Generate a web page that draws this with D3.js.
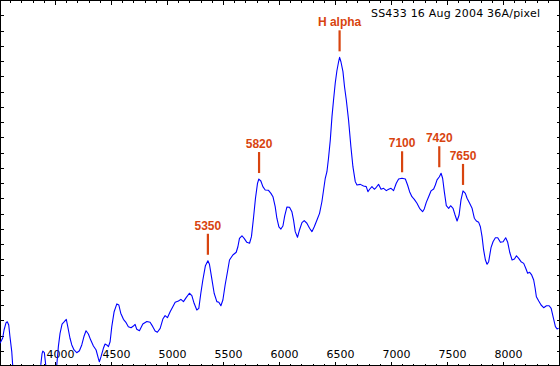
<!DOCTYPE html>
<html>
<head>
<meta charset="utf-8">
<script src="https://cdn.jsdelivr.net/npm/d3@7"></script>
<style>
html, body { margin: 0; padding: 0; background: #fff; overflow: hidden; }
svg { display: block; }
</style>
</head>
<body>
<script>
// ---- Data ----
const title = "SS433 16 Aug 2004 36A/pixel";

const wavelength = [
  3509, 3533, 3545, 3563, 3574, 3587, 3598, 3614, 3622, 3634, 3849,
  3873, 3884, 3891, 3905, 3917, 3929, 4003,
  4016, 4030, 4045, 4063, 4081, 4101, 4114, 4134, 4150, 4170, 4194, 4218, 4239, 4260, 4277, 4298,
  4319, 4343, 4367, 4387, 4396, 4411, 4432, 4447, 4462, 4477, 4492, 4507, 4528, 4552, 4570, 4587,
  4611, 4635, 4655, 4679, 4700, 4715, 4730, 4754, 4784, 4820, 4849, 4873, 4894, 4914, 4939, 4963,
  4983, 5004, 5028, 5052, 5073, 5102, 5124, 5147, 5171, 5200, 5222, 5242, 5266, 5284, 5302, 5320,
  5343, 5365, 5379, 5397, 5421, 5445, 5463, 5481, 5499, 5519, 5540, 5558, 5588, 5618, 5633, 5647,
  5669, 5689, 5713, 5737, 5754, 5772, 5790, 5808, 5820, 5838, 5856, 5877, 5906, 5928, 5946, 5966,
  5981, 5999, 6017, 6035, 6051, 6071, 6094, 6115, 6130, 6145, 6165, 6183, 6205, 6225, 6249, 6273,
  6294, 6315, 6339, 6362, 6383, 6398, 6413, 6428, 6442, 6458, 6473, 6487, 6502, 6517, 6532, 6541,
  6553, 6571, 6585, 6601, 6621, 6642, 6660, 6681, 6696, 6726, 6755, 6779, 6794, 6809, 6830, 6851,
  6869, 6889, 6911, 6934, 6958, 6979, 7000, 7023, 7047, 7068, 7098, 7128, 7148, 7166, 7187, 7208,
  7232, 7255, 7282, 7297, 7315, 7336, 7357, 7381, 7396, 7411, 7432, 7447, 7461, 7476, 7494, 7515,
  7532, 7554, 7572, 7590, 7608, 7625, 7643, 7664, 7679, 7702, 7724, 7744, 7762, 7783, 7798, 7813,
  7827, 7843, 7858, 7872, 7893, 7911, 7932, 7953, 7977, 8001, 8024, 8042, 8060, 8081, 8102, 8120,
  8140, 8161, 8185, 8203, 8220, 8238, 8256, 8274, 8287, 8298, 8319, 8340, 8363, 8388, 8412, 8430,
  8447, 8468, 8483, 8497
];

const flux = [
  1.49, 1.84, 2.36, 2.84, 2.90, 2.69, 1.92, 0.94, 0.07, -0.6, -0.6,
  0.07, 0.79, 0.98, 0.87, 0.07, -0.6, -0.6,
  0.07, 1.27, 2.14, 2.75, 2.89, 3.06, 2.58, 1.82, 1.38, 1.05, 0.87, 1.00, 1.38, 1.97, 2.31, 2.10,
  1.70, 1.31, 1.05, 0.50, 0.28, 0.61, 1.16, 1.44, 1.38, 1.27, 1.59, 2.58, 3.56, 4.07, 4.00, 3.46,
  3.06, 2.84, 2.58, 2.51, 2.62, 2.73, 2.41, 2.31, 2.75, 2.92, 2.87, 2.58, 2.30, 2.21, 2.47, 3.08,
  3.30, 3.17, 3.56, 3.89, 4.18, 4.26, 4.37, 4.22, 4.48, 4.77, 4.61, 4.11, 3.67, 3.78, 4.77, 5.64,
  6.58, 6.90, 6.67, 5.86, 4.77, 4.22, 4.18, 3.95, 4.33, 5.31, 6.18, 6.95, 7.28, 7.46, 7.82, 8.37,
  8.54, 8.37, 8.11, 8.05, 8.48, 9.69, 11.00, 11.98, 12.26, 12.13, 11.76, 11.54, 11.52, 11.32, 11.10, 10.45,
  9.69, 9.13, 8.98, 9.18, 9.84, 10.43, 10.41, 10.12, 9.57, 8.81, 8.44, 8.92, 9.40, 9.53, 9.36, 9.03,
  8.81, 9.13, 9.57, 10.01, 10.77, 11.54, 12.31, 12.74, 13.62, 14.82, 16.35, 17.44, 18.54, 19.36, 19.95, 20.24,
  19.95, 19.30, 18.31, 17.44, 16.13, 14.38, 13.07, 12.09, 11.87, 11.91, 11.80, 11.76, 11.43, 11.59, 11.76, 11.59,
  11.72, 11.91, 11.59, 11.65, 11.50, 11.59, 11.65, 11.50, 11.98, 12.26, 12.31, 12.26, 11.87, 11.43, 11.10, 10.93,
  10.67, 10.34, 10.12, 10.30, 10.73, 11.10, 11.48, 11.61, 11.87, 12.20, 12.41, 12.64, 12.31, 11.43, 10.51, 10.34,
  10.51, 10.34, 9.90, 9.51, 9.90, 10.89, 11.48, 11.32, 11.00, 10.67, 10.34, 9.69, 9.51, 9.42, 9.13, 8.48,
  7.61, 6.95, 6.67, 6.84, 7.76, 8.15, 8.41, 8.41, 8.11, 8.15, 8.41, 8.11, 7.46, 6.95, 7.02, 7.23,
  7.06, 6.84, 6.73, 6.41, 6.08, 6.14, 5.97, 5.64, 5.10, 4.54, 4.26, 4.00, 3.82, 3.95, 3.95, 3.78,
  3.23, 2.58, 2.43, 2.47
];

const markerWavelength = [5365, 5822, 6541, 7099, 7431, 7643];
const markerLabel = ["5350", "5820", "H alpha", "7100", "7420", "7650"];

const xMajorTicks = [4000, 4500, 5000, 5500, 6000, 6500, 7000, 7500, 8000];
const xMinorTicks = d3.range(3600, 8500, 100).filter(v => v % 500 !== 0);
const yTicks = d3.range(1, 24, 1);

// ---- Layout ----
const W = 560, H = 366;
const orange = "#d8440f";

const svg = d3.select("body").append("svg")
  .attr("width", W).attr("height", H)
  .style("background", "#fff");

const x = d3.scaleLinear().domain([3500, 8500]).range([-1, 559]);
const y = d3.scaleLinear().domain([0, 24]).range([366, 0]);

// clip
svg.append("defs").append("clipPath").attr("id", "clip")
  .append("rect").attr("x", 0).attr("y", 0).attr("width", 559).attr("height", 365);

// ---- Axes (ticks inside frame) ----
function styleAxis(g) {
  g.select(".domain").remove();
  g.selectAll("line").attr("stroke", "#000").attr("shape-rendering", "crispEdges");
}

svg.append("g").attr("transform", "translate(0,365.5)")
  .call(d3.axisBottom(x).tickValues(xMajorTicks).tickSize(-4).tickFormat(""))
  .call(styleAxis);
svg.append("g").attr("transform", "translate(0,365.5)")
  .call(d3.axisBottom(x).tickValues(xMinorTicks).tickSize(-2).tickFormat(""))
  .call(styleAxis);
svg.append("g").attr("transform", "translate(0,0.5)")
  .call(d3.axisTop(x).tickValues(xMajorTicks).tickSize(-4).tickFormat(""))
  .call(styleAxis);
svg.append("g").attr("transform", "translate(0,0.5)")
  .call(d3.axisTop(x).tickValues(xMinorTicks).tickSize(-2).tickFormat(""))
  .call(styleAxis);
svg.append("g").attr("transform", "translate(0.5,0)")
  .call(d3.axisLeft(y).tickValues(yTicks).tickSize(-3).tickFormat(""))
  .call(styleAxis);
svg.append("g").attr("transform", "translate(559.5,0)")
  .call(d3.axisRight(y).tickValues(yTicks).tickSize(-3).tickFormat(""))
  .call(styleAxis);

// tick labels (inside, above bottom ticks)
const labelAxis = svg.append("g").attr("transform", "translate(5,365)")
  .call(d3.axisTop(x).tickValues(xMajorTicks).tickSize(0).tickPadding(7).tickFormat(d3.format("d")));
labelAxis.select(".domain").remove();
labelAxis.selectAll("text")
  .attr("font-family", "'DejaVu Sans', Verdana, sans-serif")
  .attr("font-size", 11)
  .attr("fill", "#000");

// frame
svg.append("rect")
  .attr("x", 0.5).attr("y", 0.5).attr("width", 559).attr("height", 365)
  .attr("fill", "none").attr("stroke", "#000").attr("stroke-width", 1)
  .attr("shape-rendering", "crispEdges");

// ---- Spectrum ----
const pts = wavelength.map((w, i) => [w, flux[i]]);
svg.append("path")
  .datum(pts)
  .attr("clip-path", "url(#clip)")
  .attr("fill", "none")
  .attr("stroke", "#0000ff")
  .attr("stroke-width", 1.1)
  .attr("stroke-linejoin", "round")
  .attr("d", d3.line().x(d => x(d[0])).y(d => y(d[1])));

// ---- Line markers ----
markerWavelength.forEach((mw, i) => {
  const near = pts.filter(p => Math.abs(p[0] - mw) <= 40);
  const peak = d3.max(near, p => p[1]);
  const bottom = y(peak) - 6;
  const top = bottom - 21;
  svg.append("line")
    .attr("x1", x(mw)).attr("x2", x(mw))
    .attr("y1", top).attr("y2", bottom)
    .attr("stroke", orange).attr("stroke-width", 2.2);
  svg.append("text")
    .attr("x", x(mw)).attr("y", top - 4)
    .attr("text-anchor", "middle")
    .attr("font-family", "'Liberation Sans', Arial, sans-serif")
    .attr("font-weight", "bold")
    .attr("font-size", 12)
    .attr("fill", orange)
    .text(markerLabel[i]);
});

// ---- Title ----
svg.append("text")
  .attr("x", 371).attr("y", 17)
  .attr("font-family", "'DejaVu Sans', Verdana, sans-serif")
  .attr("font-size", 11)
  .attr("textLength", 169)
  .attr("lengthAdjust", "spacing")
  .attr("fill", "#000")
  .text(title);
</script>
</body>
</html>
